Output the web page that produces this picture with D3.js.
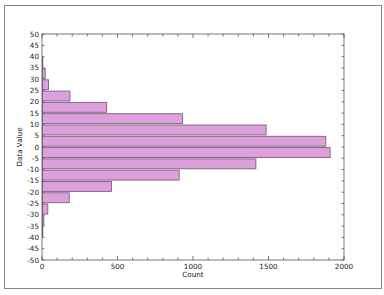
<!DOCTYPE html>
<html><head><meta charset="utf-8">
<script src="https://cdn.jsdelivr.net/npm/d3@7"></script>
<style>body{margin:0;background:#fff;} text{font-family:"DejaVu Sans",sans-serif;}</style>
</head><body>
<svg id="c" width="384" height="295"></svg>
<script>
const binStarts = [35, 30, 25, 20, 15, 10, 5, 0, -5, -10, -15, -20, -25, -30, -35, -40];
const counts    = [2, 18, 40, 182, 425, 928, 1481, 1876, 1905, 1413, 905, 457, 177, 35, 9, 2];
const yTicks = d3.range(-50, 51, 5);
const xMajor = [0, 500, 1000, 1500, 2000];
const xMinor = d3.range(0, 2001, 100);

const svg = d3.select("#c");
svg.append("rect").attr("x",4.5).attr("y",5.5).attr("width",377).attr("height",283)
  .attr("fill","#fff").attr("stroke","#888").attr("stroke-width",1);

const L=42, R=344, T=34, B=260;
const x = d3.scaleLinear().domain([0,2000]).range([L,R]);
const y = d3.scaleLinear().domain([-50,50]).range([B,T]);

const g = svg.append("g");
g.selectAll("rect.bar").data(binStarts).enter().append("rect")
  .attr("x", x(0)+0.5)
  .attr("y", d => y(d+5)+0.6)
  .attr("width", (d,i) => Math.max(0, x(counts[i]) - x(0)))
  .attr("height", d => y(d) - y(d+5) - 1.4)
  .attr("fill", "#dda0dd").attr("stroke", "#7a627a").attr("stroke-width", 0.9);

g.append("rect").attr("x",L).attr("y",T).attr("width",R-L).attr("height",B-T)
  .attr("fill","none").attr("stroke","#555").attr("stroke-width",0.8);

const tc = "#555";
xMinor.forEach(v => {
  const major = v % 500 === 0;
  const len = major ? 4 : 2.5;
  g.append("line").attr("x1",x(v)).attr("x2",x(v)).attr("y1",B).attr("y2",B-len).attr("stroke",tc).attr("stroke-width",0.8);
  g.append("line").attr("x1",x(v)).attr("x2",x(v)).attr("y1",T).attr("y2",T+len).attr("stroke",tc).attr("stroke-width",0.8);
});
yTicks.forEach(v => {
  g.append("line").attr("x1",L).attr("x2",L+2.5).attr("y1",y(v)).attr("y2",y(v)).attr("stroke",tc).attr("stroke-width",0.8);
  g.append("line").attr("x1",R).attr("x2",R-2.5).attr("y1",y(v)).attr("y2",y(v)).attr("stroke",tc).attr("stroke-width",0.8);
});
g.selectAll("text.yl").data(yTicks).enter().append("text")
  .attr("x", L-3).attr("y", d => y(d)).attr("dy","0.35em")
  .attr("text-anchor","end").attr("font-size",7.2).attr("fill","#222").text(d=>d);
g.selectAll("text.xl").data(xMajor).enter().append("text")
  .attr("x", d => x(d)).attr("y", B+8.5)
  .attr("text-anchor","middle").attr("font-size",7.2).attr("fill","#222").text(d=>d);
g.append("text").attr("x",(L+R)/2).attr("y",B+17).attr("text-anchor","middle")
  .attr("font-size",7.2).attr("fill","#222").text("Count");
g.append("text").attr("transform",`translate(22,${(T+B)/2}) rotate(-90)`).attr("text-anchor","middle")
  .attr("font-size",7.2).attr("fill","#222").text("Data Value");
</script>
</body></html>
